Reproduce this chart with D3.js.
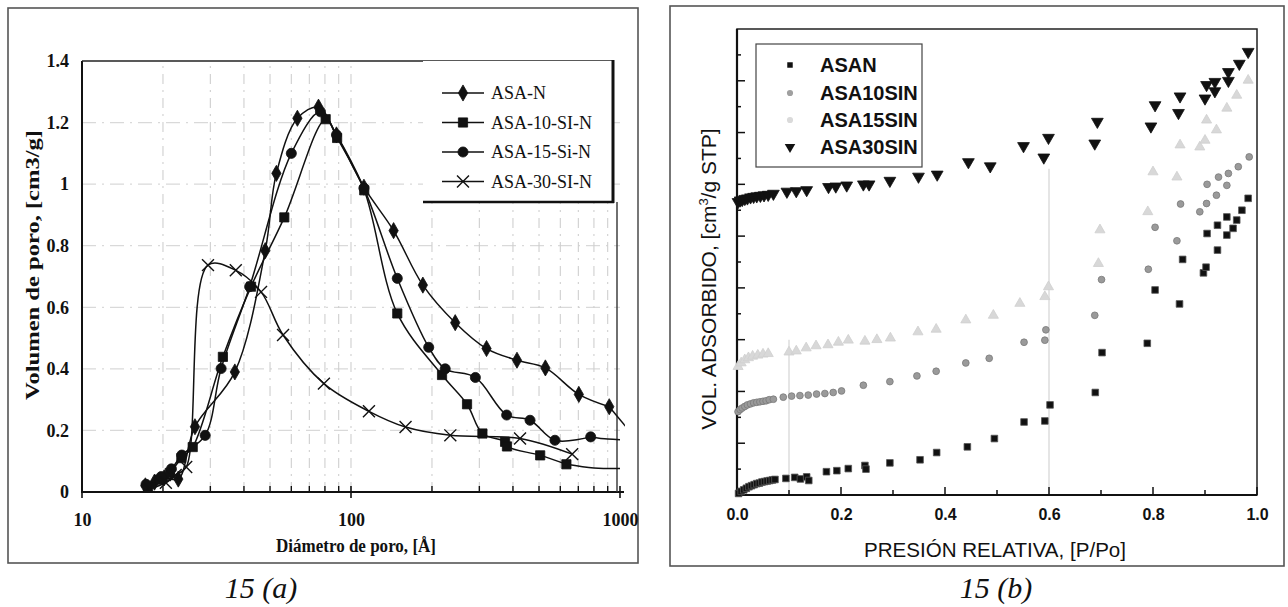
<!DOCTYPE html>
<html><head><meta charset="utf-8">
<script src="https://cdn.jsdelivr.net/npm/d3@7"></script>
<style>body{margin:0;background:#fff}svg{display:block}</style>
</head><body>
<svg id="c" width="1288" height="607"></svg>
<script>
// ===== Panel 15(a): pore size distribution, x = pore diameter [Å] (log), y = pore volume [cm3/g]
const aSeriesNames = ["ASA-N", "ASA-10-SI-N", "ASA-15-Si-N", "ASA-30-SI-N"];
const asaN = [[17.2,0.02],[18.6,0.032],[20.2,0.046],[22.8,0.042],[26.3,0.212],[37,0.39],[48,0.784],[52.8,1.035],[63.2,1.214],[75.7,1.25],[88.3,1.16],[111.7,0.99],[144,0.849],[185,0.672],[244,0.55],[319,0.466],[414,0.428],[528,0.403],[703,0.317],[912,0.277]];
const asaNTail = [[912,0.277],[1080,0.2]];
const asa10 = [[17.6,0.015],[19.4,0.04],[21.2,0.062],[23.4,0.11],[25.8,0.146],[33.4,0.439],[42.5,0.667],[56.5,0.892],[80.5,1.211],[88.8,1.15],[112,0.98],[148.6,0.58],[218,0.38],[270,0.285],[308,0.19],[374,0.163],[380,0.148],[505,0.119],[632,0.09]];
const asa10Tail = [[632,0.09],[800,0.078],[1000,0.076]];
const asa15 = [[17.3,0.025],[19.7,0.05],[21.5,0.075],[23.5,0.12],[28.7,0.184],[32.9,0.401],[42,0.667],[60,1.1],[77,1.235],[88.3,1.16],[111.7,0.987],[148.6,0.694],[194.5,0.47],[224,0.40],[290,0.372],[379,0.25],[463,0.233],[573,0.168],[778,0.179]];
const asa15Tail = [[778,0.179],[900,0.172],[1000,0.17]];
const asa30 = [[17.8,0.01],[20.5,0.03],[22.3,0.055],[24.4,0.081],[29.4,0.737],[37.3,0.72],[46.3,0.65],[55.9,0.51],[79.3,0.352],[116.6,0.262],[159.5,0.211],[234,0.184],[425,0.174],[664,0.123]];
const aYTicks = [0,0.2,0.4,0.6,0.8,1,1.2,1.4];
const aYLabels = ["0","0.2","0.4","0.6","0.8","1","1.2","1.4"];
const aXTicks = [10,100,1000];
const aXMinor = [20,30,40,50,60,70,80,90,200,300,400,500,600,700,800,900];

// ===== Panel 15(b): N2 isotherms, x = relative pressure, y = adsorbed volume (no numeric labels)
const bSeriesNames = ["ASAN","ASA10SIN","ASA15SIN","ASA30SIN"];
const asanB = [[0.003,0.03],[0.008,0.07],[0.013,0.1],[0.018,0.13],[0.023,0.16],[0.028,0.18],[0.033,0.2],[0.038,0.22],[0.043,0.23],[0.048,0.25],[0.053,0.26],[0.058,0.27],[0.063,0.28],[0.068,0.29],[0.073,0.3],[0.094,0.32],[0.111,0.34],[0.122,0.31],[0.134,0.35],[0.138,0.28],[0.172,0.45],[0.192,0.47],[0.214,0.51],[0.246,0.57],[0.248,0.5],[0.294,0.62],[0.352,0.68],[0.384,0.82],[0.443,0.93],[0.495,1.09],[0.552,1.41],[0.592,1.43],[0.602,1.74],[0.689,1.98],[0.702,2.75],[0.789,2.93],[0.804,3.96],[0.851,3.69],[0.857,4.55],[0.897,4.29],[0.902,4.4],[0.904,5.05],[0.924,4.73],[0.924,5.21],[0.942,5.02],[0.942,5.37],[0.954,5.15],[0.961,5.31],[0.971,5.5],[0.983,5.73]];
const asa10B = [[0.002,1.61],[0.006,1.65],[0.01,1.68],[0.015,1.71],[0.02,1.74],[0.026,1.76],[0.032,1.78],[0.038,1.79],[0.044,1.8],[0.05,1.81],[0.056,1.82],[0.062,1.84],[0.07,1.85],[0.089,1.89],[0.105,1.91],[0.121,1.92],[0.137,1.93],[0.153,1.95],[0.169,1.96],[0.185,1.98],[0.201,2.01],[0.243,2.12],[0.294,2.19],[0.346,2.3],[0.383,2.39],[0.44,2.55],[0.485,2.64],[0.552,2.95],[0.592,2.99],[0.594,3.19],[0.688,3.47],[0.701,4.16],[0.791,4.36],[0.804,5.17],[0.846,4.91],[0.853,5.62],[0.89,5.47],[0.903,5.63],[0.904,6.0],[0.922,5.79],[0.926,6.14],[0.942,5.98],[0.945,6.21],[0.964,6.34],[0.985,6.53]];
const asa15B = [[0.002,2.48],[0.008,2.55],[0.015,2.61],[0.022,2.65],[0.03,2.68],[0.04,2.7],[0.05,2.72],[0.06,2.73],[0.1,2.76],[0.114,2.78],[0.133,2.84],[0.152,2.88],[0.175,2.9],[0.195,2.95],[0.214,2.99],[0.246,2.97],[0.269,3.0],[0.295,3.03],[0.348,3.15],[0.383,3.2],[0.44,3.38],[0.493,3.47],[0.544,3.7],[0.592,3.83],[0.599,4.02],[0.695,4.47],[0.698,5.12],[0.79,5.47],[0.8,6.24],[0.846,6.14],[0.852,6.76],[0.89,6.72],[0.9,6.85],[0.903,7.24],[0.922,7.05],[0.942,7.47],[0.961,7.72],[0.983,8.01]];
const asa30B = [[0.002,5.66],[0.006,5.69],[0.01,5.7],[0.015,5.72],[0.02,5.73],[0.026,5.75],[0.032,5.76],[0.038,5.77],[0.045,5.78],[0.052,5.79],[0.06,5.8],[0.07,5.82],[0.096,5.86],[0.114,5.87],[0.134,5.89],[0.176,5.95],[0.19,5.96],[0.211,5.98],[0.243,6.0],[0.254,6.0],[0.294,6.07],[0.349,6.15],[0.385,6.19],[0.445,6.43],[0.487,6.35],[0.551,6.74],[0.59,6.52],[0.599,6.9],[0.688,6.79],[0.693,7.21],[0.796,7.12],[0.804,7.53],[0.849,7.38],[0.852,7.7],[0.9,7.66],[0.903,7.92],[0.919,7.8],[0.919,7.98],[0.945,8.0],[0.945,8.17],[0.966,8.33],[0.983,8.56]];
const bXTicks = [0,0.2,0.4,0.6,0.8,1.0];
const bXMinor = [0.1,0.3,0.5,0.7,0.9];
const bYMajor = [1,2,3,4,5,6,7,8];
const bYMinor = [0.5,1.5,2.5,3.5,4.5,5.5,6.5,7.5,8.5];
const bGrid = [[0.1,3.0],[0.6,6.3]];

const svg = d3.select("#c");
const serif = "'Liberation Serif','Times New Roman',serif";
const sans = "'Liberation Sans',Arial,sans-serif";

// ---------------- Panel (a) ----------------
const aX = d3.scaleLog().domain([10,1000]).range([82,620]);
const aY = d3.scaleLinear().domain([0,1.4]).range([492,61]);
const ga = svg.append("g");

ga.append("rect").attr("x",8).attr("y",8).attr("width",630).attr("height",555)
  .attr("fill","none").attr("stroke","#555").attr("stroke-width",1.6);

// gridlines (faint, dashed as in the scan)
ga.append("g").selectAll("line").data(aYTicks.slice(1,7)).join("line")
  .attr("x1",aX(10)).attr("x2",aX(1000)).attr("y1",d=>aY(d)).attr("y2",d=>aY(d))
  .attr("stroke","#d9d9d9").attr("stroke-width",1.2).attr("stroke-dasharray","14,6,2,6");
ga.append("g").selectAll("line").data(aXMinor.concat([100])).join("line")
  .attr("x1",d=>aX(d)).attr("x2",d=>aX(d)).attr("y1",aY(0)).attr("y2",aY(1.4))
  .attr("stroke","#cfcfcf").attr("stroke-width",1.1).attr("stroke-dasharray","10,6,2,6");

// axes frame
ga.append("line").attr("x1",aX(10)).attr("x2",aX(10)).attr("y1",aY(1.4)).attr("y2",aY(0)+1).attr("stroke","#111").attr("stroke-width",2);
ga.append("line").attr("x1",aX(10)-1).attr("x2",aX(1000)+4).attr("y1",aY(0)).attr("y2",aY(0)).attr("stroke","#111").attr("stroke-width",2.2);
ga.append("line").attr("x1",aX(10)).attr("x2",613).attr("y1",aY(1.4)).attr("y2",aY(1.4)).attr("stroke","#222").attr("stroke-width",1.6);
ga.append("line").attr("x1",617).attr("x2",617).attr("y1",202).attr("y2",aY(0)).attr("stroke","#333").attr("stroke-width",1.4);

// x ticks
ga.append("g").selectAll("line").data(aXMinor).join("line")
  .attr("x1",d=>aX(d)).attr("x2",d=>aX(d)).attr("y1",aY(0)).attr("y2",aY(0)-6)
  .attr("stroke","#111").attr("stroke-width",1.4);
ga.append("g").selectAll("line").data(aXTicks).join("line")
  .attr("x1",d=>aX(d)).attr("x2",d=>aX(d)).attr("y1",aY(0)-6).attr("y2",aY(0)+6)
  .attr("stroke","#111").attr("stroke-width",1.6);

const axA = ga.append("g").attr("transform",`translate(0,${aY(0)})`)
  .call(d3.axisBottom(aX).tickValues(aXTicks).tickFormat(d3.format("d")).tickSize(0).tickPadding(21));
axA.select(".domain").remove();
axA.selectAll("text").attr("font-family",serif).attr("font-weight","bold").attr("font-size",18).attr("fill","#111");

const ayA = ga.append("g").attr("transform",`translate(${aX(10)},0)`)
  .call(d3.axisLeft(aY).tickValues(aYTicks).tickFormat((d,i)=>aYLabels[i]).tickSize(0).tickPadding(13));
ayA.select(".domain").remove();
ayA.selectAll("text").attr("font-family",serif).attr("font-weight","bold").attr("font-size",18).attr("fill","#111");

ga.append("text").attr("x",356).attr("y",552).attr("text-anchor","middle")
  .attr("font-family",serif).attr("font-weight","bold").attr("font-size",18).attr("fill","#111")
  .attr("textLength",160).attr("lengthAdjust","spacingAndGlyphs").text("Diámetro de poro, [Å]");
ga.append("text").attr("transform","translate(39,265) rotate(-90)").attr("text-anchor","middle")
  .attr("font-family",serif).attr("font-weight","bold").attr("font-size",19).attr("fill","#111")
  .attr("textLength",270).attr("lengthAdjust","spacingAndGlyphs").text("Volumen de poro, [cm3/g]");

// legend (a)
const legA = ga.append("g");
legA.append("rect").attr("x",423).attr("y",aY(1.4)).attr("width",190).attr("height",141).attr("fill","#fff").attr("stroke","none");
legA.append("line").attr("x1",423).attr("x2",614).attr("y1",202).attr("y2",202).attr("stroke","#111").attr("stroke-width",2.5);
legA.append("line").attr("x1",613).attr("x2",613).attr("y1",aY(1.4)-1).attr("y2",203).attr("stroke","#111").attr("stroke-width",3);

// data lines (a)
const clipA = svg.append("defs").append("clipPath").attr("id","clipA");
clipA.append("rect").attr("x",aX(10)).attr("y",aY(1.4)).attr("width",aX(1000)-aX(10)+5).attr("height",aY(0)-aY(1.4));
const lineA = d3.line().x(d=>aX(d[0])).y(d=>aY(d[1])).curve(d3.curveCatmullRom.alpha(0.5));
const symTimes = d3.symbolTimes || d3.symbolCross;
const aDefs = [
  {data:asaN, tail:asaNTail, sym:d3.symbolDiamond, size:75, fill:true},
  {data:asa10, tail:asa10Tail, sym:d3.symbolSquare, size:85, fill:true},
  {data:asa15, tail:asa15Tail, sym:d3.symbolCircle, size:80, fill:true},
  {data:asa30, tail:null, sym:symTimes, size:95, fill:false}
];
const gl = ga.append("g").attr("clip-path","url(#clipA)");
aDefs.forEach(s=>{
  gl.append("path").attr("d",lineA(s.data)).attr("fill","none").attr("stroke","#111").attr("stroke-width",1.5);
  if(s.tail) gl.append("path").attr("d",lineA(s.tail)).attr("fill","none").attr("stroke","#111").attr("stroke-width",1.5);
});
aDefs.forEach(s=>{
  gl.append("g").selectAll("path").data(s.data).join("path")
    .attr("transform",d=>`translate(${aX(d[0])},${aY(d[1])})`)
    .attr("d",d3.symbol(s.sym,s.size)())
    .attr("fill",s.fill?"#111":"none").attr("stroke","#111").attr("stroke-width",s.fill?0.8:1.4);
});
const legYA = [93,122.5,152,181.5];
aDefs.forEach((s,i)=>{
  legA.append("line").attr("x1",442).attr("x2",484).attr("y1",legYA[i]).attr("y2",legYA[i]).attr("stroke","#111").attr("stroke-width",1.5);
  legA.append("path").attr("transform",`translate(463,${legYA[i]})`).attr("d",d3.symbol(s.sym,s.size)())
    .attr("fill",s.fill?"#111":"none").attr("stroke","#111").attr("stroke-width",s.fill?0.8:1.4);
  legA.append("text").attr("x",491).attr("y",legYA[i]+6).attr("font-family",serif).attr("font-size",18).attr("fill","#111").text(aSeriesNames[i]);
});

ga.append("text").attr("x",261).attr("y",598).attr("text-anchor","middle")
  .attr("font-family",serif).attr("font-style","italic").attr("font-size",30).attr("fill","#111").text("15 (a)");

// ---------------- Panel (b) ----------------
const bX = d3.scaleLinear().domain([0,1]).range([737,1257]);
const bY = d3.scaleLinear().domain([0,9]).range([495,29]);
const gb = svg.append("g");
gb.append("rect").attr("x",670).attr("y",6).attr("width",614).attr("height",560)
  .attr("fill","none").attr("stroke","#555").attr("stroke-width",1.6);

gb.append("g").selectAll("line").data(bGrid).join("line")
  .attr("x1",d=>bX(d[0])).attr("x2",d=>bX(d[0])).attr("y1",d=>bY(d[1])).attr("y2",bY(0))
  .attr("stroke","#dcdcdc").attr("stroke-width",1.5);

gb.append("rect").attr("x",bX(0)).attr("y",bY(9)).attr("width",bX(1)-bX(0)).attr("height",bY(0)-bY(9))
  .attr("fill","none").attr("stroke","#222").attr("stroke-width",1.5);
gb.append("line").attr("x1",bX(0)).attr("x2",bX(0)).attr("y1",bY(9)).attr("y2",bY(0)).attr("stroke","#111").attr("stroke-width",2.2);
gb.append("line").attr("x1",bX(0)).attr("x2",bX(1)).attr("y1",bY(0)).attr("y2",bY(0)).attr("stroke","#111").attr("stroke-width",2.2);

gb.append("g").selectAll("line").data(bXTicks).join("line")
  .attr("x1",d=>bX(d)).attr("x2",d=>bX(d)).attr("y1",bY(0)).attr("y2",bY(0)-8).attr("stroke","#111").attr("stroke-width",1.5);
gb.append("g").selectAll("line").data(bXMinor).join("line")
  .attr("x1",d=>bX(d)).attr("x2",d=>bX(d)).attr("y1",bY(0)).attr("y2",bY(0)-5).attr("stroke","#111").attr("stroke-width",1.5);
gb.append("g").selectAll("line").data(bYMajor).join("line")
  .attr("x1",bX(0)).attr("x2",bX(0)+8).attr("y1",d=>bY(d)).attr("y2",d=>bY(d)).attr("stroke","#111").attr("stroke-width",1.5);
gb.append("g").selectAll("line").data(bYMinor).join("line")
  .attr("x1",bX(0)).attr("x2",bX(0)+4).attr("y1",d=>bY(d)).attr("y2",d=>bY(d)).attr("stroke","#111").attr("stroke-width",1.5);

const axB = gb.append("g").attr("transform",`translate(0,${bY(0)})`)
  .call(d3.axisBottom(bX).tickValues(bXTicks).tickFormat(d3.format(".1f")).tickSize(0).tickPadding(14));
axB.select(".domain").remove();
axB.selectAll("text").attr("font-family",sans).attr("font-weight","bold").attr("font-size",16).attr("fill","#111");

gb.append("text").attr("x",995).attr("y",557).attr("text-anchor","middle")
  .attr("font-family",sans).attr("font-size",20).attr("fill","#111")
  .attr("textLength",262).attr("lengthAdjust","spacingAndGlyphs").text("PRESIÓN RELATIVA, [P/Po]");
const yt = gb.append("text").attr("transform","translate(716,279) rotate(-90)").attr("text-anchor","middle")
  .attr("font-family",sans).attr("font-size",21).attr("fill","#111");
yt.append("tspan").text("VOL. ADSORBIDO, [cm");
yt.append("tspan").attr("font-size",13).attr("dy",-8).text("3");
yt.append("tspan").attr("dy",8).text("/g STP]");

const bDefs = [
  {data:asanB, sym:d3.symbolSquare, size:44, fill:"#111", stroke:"#555"},
  {data:asa10B, sym:d3.symbolCircle, size:36, fill:"#9a9a9a", stroke:"#7a7a7a"},
  {data:asa15B, sym:d3.symbolTriangle, size:44, fill:"#d8d8d8", stroke:"#cfcfcf"},
  {data:asa30B, sym:d3.symbolTriangle, size:60, fill:"#111", stroke:"#111", rot:180}
];
bDefs.forEach(s=>{
  gb.append("g").selectAll("path").data(s.data).join("path")
    .attr("transform",d=>`translate(${bX(d[0])},${bY(d[1])})${s.rot?" rotate(180)":""}`)
    .attr("d",d3.symbol(s.sym,s.size)())
    .attr("fill",s.fill).attr("stroke",s.stroke).attr("stroke-width",0.8);
});

// legend (b)
const legB = gb.append("g");
legB.append("rect").attr("x",756).attr("y",44).attr("width",166).attr("height",123)
  .attr("fill","#fff").attr("stroke","#444").attr("stroke-width",1.2);
const legYB = [65,93,120,147];
const legSym = [
  {sym:d3.symbolSquare,size:30,fill:"#111"},
  {sym:d3.symbolCircle,size:30,fill:"#a0a0a0"},
  {sym:d3.symbolCircle,size:30,fill:"#dadada"},
  {sym:d3.symbolTriangle,size:48,fill:"#111",rot:180}
];
legSym.forEach((s,i)=>{
  legB.append("path").attr("transform",`translate(790,${legYB[i]})${s.rot?" rotate(180)":""}`)
    .attr("d",d3.symbol(s.sym,s.size)()).attr("fill",s.fill);
  legB.append("text").attr("x",820).attr("y",legYB[i]+7).attr("font-family",sans).attr("font-weight","bold")
    .attr("font-size",20).attr("fill","#111").text(bSeriesNames[i]);
});

gb.append("text").attr("x",996).attr("y",598).attr("text-anchor","middle")
  .attr("font-family",serif).attr("font-style","italic").attr("font-size",30).attr("fill","#111").text("15 (b)");
</script>
</body></html>
